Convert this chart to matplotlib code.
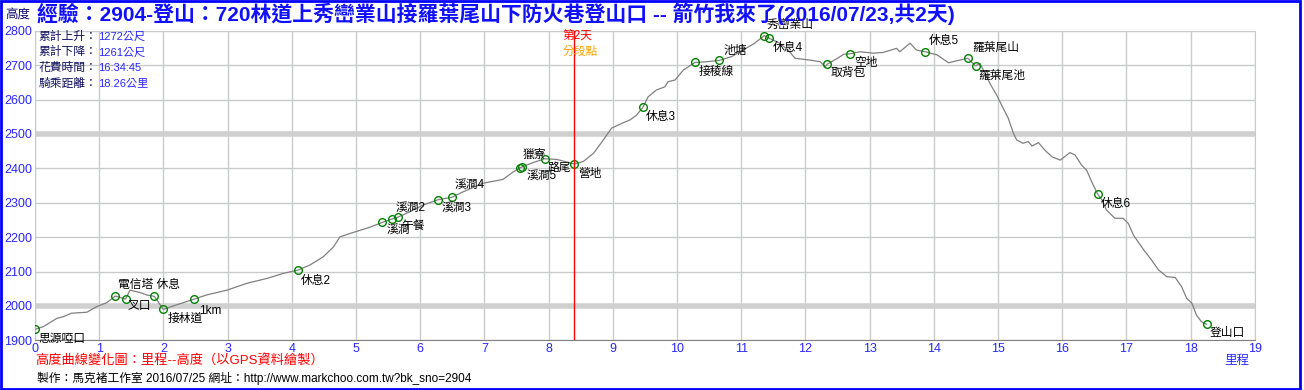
import matplotlib
matplotlib.use("Agg")
import matplotlib.pyplot as plt
from matplotlib.patches import Rectangle

plt.rcParams["font.family"] = ["Liberation Sans", "Noto Sans CJK TC"]

# elevation profile (km, metres)
dist_km = [0.00, 0.13, 0.34, 0.44, 0.57, 0.81, 0.96, 1.12, 1.25, 1.41, 1.48, 1.64,
           1.74, 1.86, 2.00, 2.15, 2.48, 2.67, 2.99, 3.30, 3.61, 3.87, 4.09, 4.28,
           4.49, 4.65, 4.75, 4.91, 5.20, 5.41, 5.56, 5.65, 5.84, 6.05, 6.28, 6.49,
           6.67, 6.98, 7.29, 7.45, 7.57, 7.76, 7.94, 8.13, 8.40, 8.54, 8.70, 8.85,
           8.98, 9.14, 9.27, 9.37, 9.47, 9.55, 9.68, 9.81, 9.86, 9.97, 10.10, 10.28,
           10.46, 10.66, 10.85, 11.03, 11.21, 11.36, 11.44, 11.60, 11.73, 11.84, 12.07,
           12.23, 12.31, 12.34, 12.50, 12.60, 12.69, 12.85, 13.06, 13.21, 13.42, 13.47,
           13.63, 13.73, 13.87, 14.05, 14.23, 14.36, 14.53, 14.65, 14.72, 14.88, 14.98,
           15.08, 15.16, 15.24, 15.29, 15.39, 15.47, 15.53, 15.63, 15.73, 15.84, 15.97,
           16.12, 16.20, 16.30, 16.38, 16.46, 16.55, 16.62, 16.69, 16.82, 16.95, 17.03,
           17.11, 17.27, 17.39, 17.50, 17.63, 17.76, 17.86, 17.94, 18.02, 18.09, 18.17,
           18.25]
elev_m = [1932, 1940, 1964, 1969, 1979, 1982, 1998, 2010, 2029, 2020, 2046, 2039,
          2032, 2028, 1990, 2000, 2020, 2032, 2046, 2066, 2080, 2095, 2104, 2119,
          2143, 2172, 2201, 2211, 2228, 2243, 2253, 2258, 2274, 2294, 2309, 2316,
          2332, 2357, 2368, 2390, 2403, 2417, 2428, 2426, 2413, 2420, 2444, 2482,
          2517, 2531, 2541, 2555, 2578, 2608, 2628, 2637, 2652, 2657, 2686, 2708,
          2710, 2714, 2725, 2744, 2764, 2786, 2778, 2764, 2744, 2720, 2715,
          2710, 2696, 2703, 2720, 2732, 2733, 2739, 2735, 2737, 2749, 2739,
          2764, 2744, 2739, 2730, 2707, 2713, 2720, 2698, 2705, 2645, 2613,
          2575, 2546, 2502, 2483, 2473, 2478, 2465, 2475, 2453, 2434, 2424,
          2446, 2439, 2410, 2395, 2361, 2326, 2308, 2279, 2255, 2255, 2240,
          2206, 2163, 2134, 2105, 2085, 2083, 2056, 2022, 2008, 1974, 1954,
          1947]

# waypoints (green circles)
wp_km = [0.00, 1.25, 1.41, 1.86, 2.00, 2.48, 4.09, 5.41, 5.56, 5.65, 6.28, 6.49,
         7.55, 7.59, 7.94, 8.40, 9.47, 10.28, 10.66, 11.36, 11.44, 12.34, 12.69,
         13.87, 14.53, 14.65, 16.55, 18.25]
wp_elev = [1932, 2029, 2020, 2028, 1990, 2020, 2104, 2243, 2253, 2258, 2309, 2316,
           2402, 2403, 2428, 2413, 2578, 2708, 2714, 2786, 2778, 2703, 2733,
           2739, 2720, 2698, 2326, 1947]

# waypoint names and where their text sits (km, m)
wp_names = ["思源啞口", "電信塔 休息", "叉口", "接林道", "1km", "休息2", "溪澗", "午餐",
            "溪澗2", "溪澗3", "溪澗4", "獵寮", "溪澗5", "路尾", "營地", "休息3", "接稜線",
            "池塘", "秀巒業山", "休息4", "取背包", "空地", "休息5", "羅葉尾山", "羅葉尾池",
            "休息6", "登山口"]
name_km = [0.05, 1.29, 1.45, 2.06, 2.55, 4.14, 5.47, 5.70, 5.61, 6.34, 6.54, 7.60,
           7.66, 7.99, 8.46, 9.52, 10.33, 10.72, 11.40, 11.50, 12.40, 12.76, 13.93,
           14.60, 14.70, 16.60, 18.30]
name_elev = [1904, 2061, 2001, 1962, 1986, 2073, 2218, 2233, 2282, 2282, 2349, 2439,
             2375, 2401, 2384, 2549, 2680, 2741, 2816, 2750, 2677, 2706, 2770, 2750,
             2668, 2297, 1922]

day2_km = 8.40
summary_labels = ["累計上升：", "累計下降：", "花費時間：", "騎乘距離："]
summary_values = ["1272公尺", "1261公尺", "16:34:45", "18.26公里"]

x_ticks = list(range(0, 20))
y_ticks = list(range(1900, 2900, 100))
bands = [2000, 2500]

blue = "#2828ff"

fig = plt.figure(figsize=(13.04, 3.9), dpi=100)
ax = fig.add_axes([35 / 1304, 49.6 / 390, 1219.8 / 1304, 309.6 / 390])
ax.set_xlim(0, 19)
ax.set_ylim(1900, 2800)

# grid, with the wide bands at 2000 m and 2500 m
for x in x_ticks:
    ax.axvline(x, color="#c8ccc8", lw=1, zorder=1)
for y in y_ticks:
    ax.axhline(y, color="#c8ccc8", lw=1, zorder=1)
for y in bands:
    ax.axhline(y, color="#d0d0d0", lw=4, zorder=1)

ax.plot(dist_km, elev_m, color="#808080", lw=0.9, zorder=3)
ax.plot(wp_km, wp_elev, "o", ms=5.5, mfc="none", mec="#008000", mew=1, zorder=4)
ax.axvline(day2_km, color="red", lw=1, zorder=5)

for name, x, y in zip(wp_names, name_km, name_elev):
    ax.text(x, y, name, fontsize=8.5, color="black", ha="left", va="center",
            clip_on=False, zorder=6)

ax.text(8.22, 2782, "第2天", fontsize=8.5, color="red", va="center", zorder=6)
ax.text(8.22, 2739, "分段點", fontsize=8.5, color="#ffa000", va="center", zorder=6)

ax.set_xticks(x_ticks)
ax.set_yticks(y_ticks)
ax.tick_params(length=0, labelsize=9, labelcolor=blue)
ax.tick_params(axis="x", pad=2)
ax.tick_params(axis="y", pad=2)
for side in ["top", "right", "left"]:
    ax.spines[side].set_color("#c8ccc8")
ax.spines["bottom"].set_color("#808080")

# summary box in the top-left corner
for i, (lab, val) in enumerate(zip(summary_labels, summary_values)):
    yy = 1 - (36.7 + i * 15.6 - 30.8) / 309.6
    ax.text(0.0025, yy, lab, transform=ax.transAxes, fontsize=8.5,
            color="#101060", va="center", ha="left")
    ax.text((98 - 35) / 1219.8, yy, val, transform=ax.transAxes, fontsize=8,
            color=blue, va="center", ha="left")

fig.text(5 / 1304, 1 - 15 / 390, "高度", fontsize=9, color="#101070", va="center")
fig.text(37 / 1304, 1 - 14 / 390,
         "經驗：2904-登山：720林道上秀巒業山接羅葉尾山下防火巷登山口 -- 箭竹我來了(2016/07/23,共2天)",
         fontsize=15, fontweight="bold", color="#1010ff", va="center")
fig.text(1237 / 1304, 1 - 361 / 390, "里程", fontsize=9, color=blue, ha="center", va="center")
fig.text(35 / 1304, 1 - 361 / 390, "高度曲線變化圖：里程--高度（以GPS資料繪製）",
         fontsize=9.5, color="red", va="center")
fig.text(37 / 1304, 1 - 378 / 390,
         "製作：馬克褚工作室 2016/07/25 網址：http://www.markchoo.com.tw?bk_sno=2904",
         fontsize=8.5, color="black", va="center")

fig.patches.append(Rectangle((0.001, 0.002), 0.996, 0.995, transform=fig.transFigure,
                             fill=False, edgecolor="#0000ff", lw=2))

fig.savefig("out.png", dpi=100)
plt.close(fig)
